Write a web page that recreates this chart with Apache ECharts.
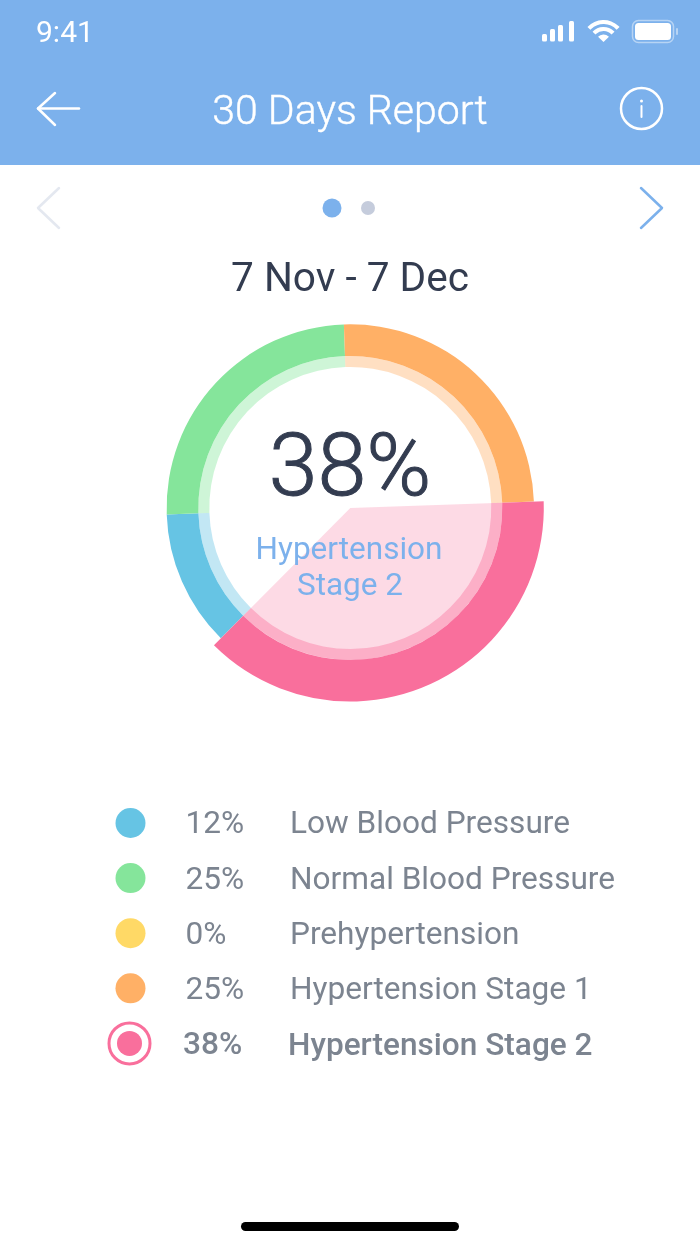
<!doctype html>
<html lang="en">
  <head>
    <meta charset="UTF-8" />
    <title>30 Days Report</title>
    <script src="https://cdn.jsdelivr.net/npm/echarts@6/dist/echarts.min.js"></script>
    <style>
      html, body { margin: 0; padding: 0; background: #fff; }
      #chart { width: 700px; height: 1244px; }
    </style>
  </head>
  <body>
    <div id="chart"></div>
    <script>
      // Data, in legend order (the ring runs clockwise in this order too)
      const categories = ['Low Blood Pressure', 'Normal Blood Pressure', 'Prehypertension', 'Hypertension Stage 1', 'Hypertension Stage 2'];
      const percents = [12, 25, 0, 25, 38];
      const colors = ['#66C4E4', '#85E59B', '#FFD966', '#FFB066', '#F96F9C'];
      const activeIndex = 4;

      const FONT = 'Roboto, sans-serif';
      const NAVY = '#333C50';
      const BLUE = '#7CB1EC';
      const GREY = '#7C8490';
      const CENTER = [350.3, 508];
      const START_ANGLE = 225.2;

      const chart = echarts.init(document.getElementById('chart'), null, { renderer: 'canvas' });

      // show = which slices are painted in this ring, the others stay transparent
      function ring(radius, opacity, show) {
        return {
          type: 'pie',
          silent: true,
          center: CENTER,
          radius: radius,
          startAngle: START_ANGLE,
          clockwise: true,
          animation: false,
          stillShowZeroSum: false,
          label: { show: false },
          labelLine: { show: false },
          data: percents.map((v, i) => ({
            name: categories[i],
            value: v,
            itemStyle: {
              color: colors[i],
              opacity: show(i) ? opacity : 0,
            },
          })),
        };
      }

      function line(points, color, width) {
        return {
          type: 'polyline',
          shape: { points: points },
          style: { stroke: color, lineWidth: width, fill: null, lineCap: 'round', lineJoin: 'round' },
        };
      }

      // middle alignment sits a bit high, hence the small nudge on y
      // thicken = thin stroke to get between the light and regular weights
      function text(x, y, str, size, color, align, weight, thicken) {
        return {
          type: 'text',
          x: x,
          y: y + size * 0.08,
          z: 10,
          style: {
            text: str,
            fill: color,
            stroke: thicken ? color : null,
            lineWidth: thicken || 0,
            font: `${weight || 400} ${size}px ${FONT}`,
            align: align || 'left',
            verticalAlign: 'middle',
          },
        };
      }

      function circle(x, y, r, style) {
        return { type: 'circle', shape: { cx: x, cy: y, r: r }, style: style };
      }

      function rect(x, y, w, h, r, style) {
        return { type: 'rect', shape: { x: x, y: y, width: w, height: h, r: r }, style: style };
      }

      function wifiArc(r, r0) {
        return {
          type: 'sector',
          shape: { cx: 603.5, cy: 42, r: r, r0: r0, startAngle: -Math.PI * 0.76, endAngle: -Math.PI * 0.24 },
          style: { fill: '#fff' },
        };
      }

      // Header and page furniture
      const header = [
        { type: 'rect', z: -1, shape: { x: 0, y: 0, width: 700, height: 165 }, style: { fill: BLUE } },
        text(36, 32, '9:41', 30, '#fff'),
        rect(542, 34, 5, 7.5, 1.5, { fill: '#fff' }),
        rect(550, 29, 5, 12.5, 1.5, { fill: '#fff' }),
        rect(558, 25, 5, 16.5, 1.5, { fill: '#fff' }),
        rect(569, 21, 5, 20.5, 1.5, { fill: '#fff' }),
        wifiArc(7.5, 0),
        wifiArc(15, 11),
        wifiArc(22, 18),
        rect(632.5, 20.5, 41, 22, 6, { fill: 'none', stroke: 'rgba(255,255,255,0.45)', lineWidth: 1.5 }),
        rect(635, 23, 36, 17, 3.5, { fill: '#fff' }),
        rect(676, 28, 2, 7, 1, { fill: 'rgba(255,255,255,0.45)' }),
        line([[79, 108.5], [38, 108.5]], '#fff', 2.5),
        line([[55, 93], [38, 108.5], [55, 125]], '#fff', 2.5),
        text(350, 110, '30 Days Report', 41, '#fff', 'center', 300, 0.4),
        circle(641.5, 108.5, 20.5, { fill: 'none', stroke: '#fff', lineWidth: 2.5 }),
        circle(641.5, 101, 1.5, { fill: '#fff' }),
        line([[641.5, 106], [641.5, 117]], '#fff', 2),
        line([[59, 188], [38, 208], [59, 228]], '#E4E8F0', 2.5),
        line([[641, 188], [662, 208], [641, 228]], BLUE, 2.5),
        circle(332, 208, 9.5, { fill: BLUE }),
        circle(368, 208, 7, { fill: '#C5CCDC' }),
        text(350, 277.5, '7 Nov - 7 Dec', 40.6, NAVY, 'center'),
        text(350, 466, percents[activeIndex] + '%', 88, NAVY, 'center', 300, 1),
        text(349, 549, 'Hypertension', 31.5, BLUE, 'center'),
        text(350, 585, 'Stage 2', 31.5, BLUE, 'center'),
        rect(241, 1222, 218, 9, 4.5, { fill: '#000' }),
      ];

      // Legend rows
      const legendRows = [];
      categories.forEach((name, i) => {
        const active = i === activeIndex;
        const y = 823 + i * 55.1;
        legendRows.push(circle(active ? 129.5 : 130.5, y, active ? 12.5 : 15, { fill: colors[i] }));
        if (active) {
          legendRows.push(circle(129.5, y, 20.5, { fill: 'none', stroke: colors[i], lineWidth: 3 }));
        }
        legendRows.push(text(active ? 183 : 185.5, y, percents[i] + '%', 31.6, GREY, 'left', active ? 500 : 400));
        legendRows.push(text(active ? 288 : 290, y + (active ? 1 : 0), name, 31.6, GREY, 'left', active ? 500 : 400));
      });

      chart.setOption({
        animation: false,
        backgroundColor: '#fff',
        series: [
          ring([152, 183.7], 1, (i) => i !== activeIndex),
          ring([152, 193.5], 1, (i) => i === activeIndex),
          ring([0, 152], 0.26, (i) => i === activeIndex),
          ring([141, 152], 0.4, () => true),
        ],
        graphic: { elements: header.concat(legendRows) },
      });
    </script>
  </body>
</html>
